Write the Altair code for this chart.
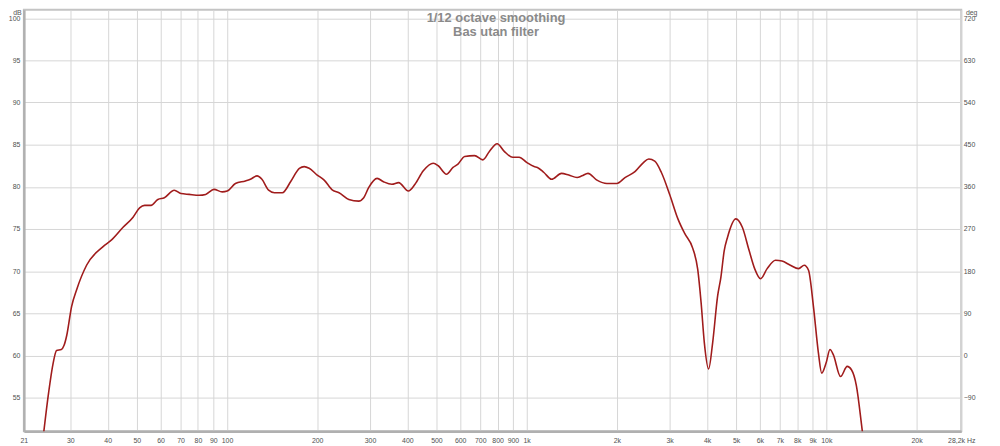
import altair as alt
import pandas as pd

# Frequency response (Hz, dB)
freq = [24.3, 25.4, 26.3, 27.0, 28.0, 28.6, 29.2, 30.3, 31.5, 34.0, 38.6, 41.2, 45.0, 48.6,
        51.1, 53.1, 55.8, 58.8, 61.8, 66.7, 70.2, 74.8, 80.7, 84.9, 90.5, 96.4, 100.2,
        106.7, 115.2, 119.7, 126, 130.8, 137.7, 144, 153, 163.6, 174.4, 181, 188, 200,
        211, 225, 236.5, 255, 275, 286, 297, 317, 333, 355, 374, 403, 424, 452, 488,
        507, 540, 568, 590, 621, 670, 714, 751, 797, 842, 898, 944, 1000, 1059, 1086,
        1142, 1211, 1307, 1382, 1473, 1530, 1602, 1716, 1852, 1998, 2129, 2298, 2448,
        2556, 2676, 2816, 3001, 3197, 3364, 3584, 3723, 3820, 3917, 4048, 4175, 4336,
        4449, 4562, 4679, 4989, 5245, 5520, 5765, 6034, 6346, 6767, 7114, 7585, 8082,
        8441, 8722, 9058, 9410, 9650, 9980, 10286, 10550, 11154, 11740, 12130, 12600,
        13158, 13300]
db = [50.0, 55.6, 59.1, 60.6, 60.7, 61.2, 62.4, 65.8, 67.8, 70.7, 72.9, 73.7, 75.2, 76.4,
      77.5, 77.8, 77.8, 78.5, 78.7, 79.6, 79.2, 79.1, 79.0, 79.1, 79.7, 79.4, 79.5,
      80.4, 80.7, 80.9, 81.3, 80.9, 79.6, 79.3, 79.3, 80.7, 82.2, 82.4, 82.2, 81.4,
      80.8, 79.6, 79.3, 78.5, 78.3, 78.7, 79.9, 81.0, 80.6, 80.3, 80.5, 79.5, 80.3, 81.9, 82.8,
      82.5, 81.5, 82.3, 82.7, 83.6, 83.7, 83.2, 84.2, 85.1, 84.2, 83.5, 83.5, 82.9, 82.4, 82.3,
      81.7, 80.9, 81.6, 81.4, 81.1, 81.3, 81.6, 80.8, 80.4, 80.4, 81.1, 81.8, 82.85,
      83.3, 83.05, 81.7, 79.1, 76.2, 74.5, 72.7, 70.2, 66.3, 61.5, 58.4, 61.5, 67.0,
      69.3, 72.4, 74.0, 76.2, 75.2, 72.5, 70.3, 69.1, 70.3, 71.3, 71.2, 70.7, 70.3,
      70.7, 70.1, 65.8, 60.3, 57.9, 59.1, 60.7, 60.1, 57.5, 58.7, 58.3, 56.4,
      51.3, 50.0]

x_ticks = [21, 30, 40, 50, 60, 70, 80, 90, 100, 200, 300, 400, 500, 600, 700, 800, 900,
           1000, 2000, 3000, 4000, 5000, 6000, 7000, 8000, 9000, 10000, 20000, 28200]
db_ticks = [55, 60, 65, 70, 75, 80, 85, 90, 95, 100]
deg_ticks = [-90, 0, 90, 180, 270, 360, 450, 540, 630, 720]
titles = ["1/12 octave smoothing", "Bas utan filter"]

df = pd.DataFrame({"f": freq, "db": db})

x_label_expr = ("datum.value == 21 ? '21' : datum.value == 28200 ? '28,2k Hz' : "
                "datum.value >= 1000 ? (datum.value / 1000) + 'k' : '' + datum.value")

line = alt.Chart(df).mark_line(
    color="#a01c1c", strokeWidth=1.6, clip=True, interpolate="monotone"
).encode(
    x=alt.X("f:Q",
            scale=alt.Scale(type="log", domain=[21, 28200], nice=False),
            axis=alt.Axis(values=x_ticks, labelExpr=x_label_expr, title=None,
                          labelOverlap=False, labelFlush=False, labelBound=False,
                          ticks=False, labelPadding=5, domainColor="#b0b0b0",
                          domainWidth=2.5, gridColor="#d6d6d6")),
    y=alt.Y("db:Q",
            scale=alt.Scale(domain=[51, 101], nice=False, zero=False),
            axis=alt.Axis(values=db_ticks, title=None, ticks=False, labelPadding=4,
                          domainColor="#b0b0b0", domainWidth=2.5, gridColor="#d6d6d6")),
)

deg_df = pd.DataFrame({"deg": deg_ticks})
right = alt.Chart(deg_df).mark_point(opacity=0).encode(
    y=alt.Y("deg:Q",
            scale=alt.Scale(domain=[-162, 738], nice=False, zero=False),
            axis=alt.Axis(orient="right", values=deg_ticks, title=None, grid=False,
                          ticks=False, domain=False, labelPadding=2)),
)

title_df = pd.DataFrame({"t": titles, "yy": [12.5, 26.5]})
title_txt = alt.Chart(title_df).mark_text(
    font="Liberation Sans", fontSize=13, fontWeight="bold", color="#8a8a8a",
    align="center", baseline="alphabetic"
).encode(text="t:N", x=alt.value(476), y=alt.Y("yy:Q", scale=None))

unit_df = pd.DataFrame({"t": ["dB", "deg"], "xx": [-6.5, 955.5]})
unit_txt = alt.Chart(unit_df).mark_text(
    font="Liberation Sans", fontSize=7, color="#555555", align="center", baseline="alphabetic"
).encode(text="t:N", x=alt.X("xx:Q", scale=None), y=alt.value(5.5))

chart = alt.layer(line, right, title_txt, unit_txt).resolve_scale(
    y="independent"
).properties(
    width=945, height=425,
    padding={"left": 16, "top": 0, "right": 31, "bottom": 13},
    autosize=alt.AutoSizeParams(type="none"),
    background="white",
).configure_view(
    stroke="#c4c4c4", strokeWidth=2
).configure_axis(
    labelFont="Liberation Sans", labelFontSize=7, labelColor="#505050",
    gridColor="#d6d6d6", gridWidth=1
)

chart.save("out.html", embed_options={"renderer": "svg", "actions": False})
